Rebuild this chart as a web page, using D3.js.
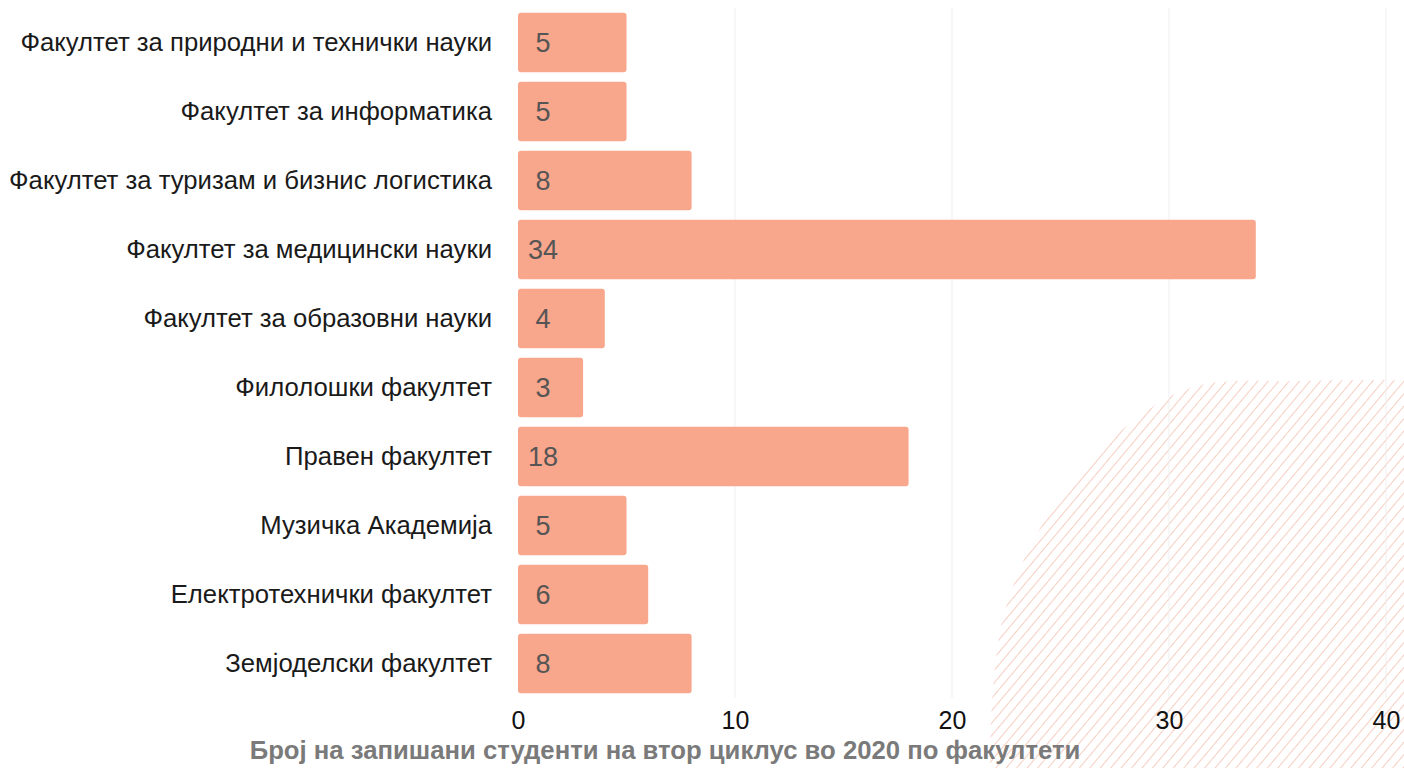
<!DOCTYPE html>
<html>
<head>
<meta charset="utf-8">
<script src="https://cdn.jsdelivr.net/npm/d3@7"></script>
<style>
  html, body { margin: 0; padding: 0; background: #fff; }
  svg { display: block; }
</style>
</head>
<body>
<svg id="chart" width="1404" height="768"></svg>
<script>
const categories = [
  "Факултет за природни и технички науки",
  "Факултет за информатика",
  "Факултет за туризам и бизнис логистика",
  "Факултет за медицински науки",
  "Факултет за образовни науки",
  "Филолошки факултет",
  "Правен факултет",
  "Музичка Академија",
  "Електротехнички факултет",
  "Земјоделски факултет"
];
const values = [5, 5, 8, 34, 4, 3, 18, 5, 6, 8];
const xTicks = [0, 10, 20, 30, 40];
const title = "Број на запишани студенти на втор циклус во 2020 по факултети";

const svg = d3.select("#chart");
const font = "'Liberation Sans', Arial, sans-serif";

const x = d3.scaleLinear().domain([0, 40]).range([518, 1386]);
const y = d3.scaleBand().domain(categories).range([8, 698]).paddingInner(0.14).paddingOuter(0.07);

// decorative hatched area (bottom-right)
const defs = svg.append("defs");
const pat = defs.append("pattern")
  .attr("id", "hatch").attr("patternUnits", "userSpaceOnUse")
  .attr("width", 8).attr("height", 8)
  .attr("patternTransform", "rotate(40)");
pat.append("line").attr("x1", 0).attr("y1", 0).attr("x2", 0).attr("y2", 8)
  .attr("stroke", "#f0ad99").attr("stroke-width", 1.2);
const hatchPts = [[1404, 380], [1300, 381], [1190, 388], [1105, 445], [1045, 520], [1005, 610], [993, 690], [990, 768]];
svg.append("path")
  .attr("d", d3.line().curve(d3.curveCatmullRom)(hatchPts) + "L1404,768Z")
  .attr("fill", "url(#hatch)");

// gridlines
svg.append("g").selectAll("line").data(xTicks.filter(d => d > 0)).join("line")
  .attr("x1", d => x(d)).attr("x2", d => x(d))
  .attr("y1", 8).attr("y2", 698)
  .attr("stroke", "#efefef").attr("stroke-width", 1);

// bars
svg.append("g").selectAll("rect").data(values).join("rect")
  .attr("x", x(0))
  .attr("y", (d, i) => y(categories[i]))
  .attr("width", d => x(d) - x(0))
  .attr("height", y.bandwidth())
  .attr("rx", 3)
  .attr("fill", "#f8a68c");

// value labels
svg.append("g").selectAll("text").data(values).join("text")
  .attr("x", x(0) + 25)
  .attr("y", (d, i) => y(categories[i]) + y.bandwidth() / 2)
  .attr("dy", "0.36em")
  .attr("text-anchor", "middle")
  .attr("font-family", font).attr("font-size", 27)
  .attr("fill", "#555")
  .text(d => d);

// y axis labels
const yAxis = d3.axisLeft(y).tickSize(0).tickPadding(16);
const gy = svg.append("g").attr("transform", `translate(${x(0) - 10},0)`).call(yAxis);
gy.select(".domain").remove();
gy.selectAll("text").attr("font-family", font).attr("font-size", 25.7).attr("fill", "#1a1a1a");

// x axis
const xAxis = d3.axisBottom(x).tickValues(xTicks).tickSize(0).tickPadding(0);
const gx = svg.append("g").attr("transform", "translate(0,711)").call(xAxis);
gx.select(".domain").remove();
gx.selectAll("text").attr("font-family", font).attr("font-size", 25).attr("fill", "#111");

// title
svg.append("text")
  .attr("x", 665).attr("y", 759)
  .attr("text-anchor", "middle")
  .attr("font-family", font).attr("font-size", 25.7).attr("font-weight", "bold")
  .attr("fill", "#7a7a7a")
  .text(title);
</script>
</body>
</html>
